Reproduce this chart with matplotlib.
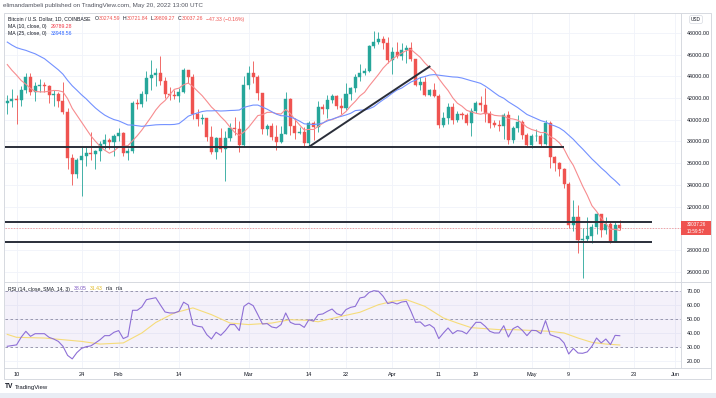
import numpy as np
import pandas as pd
import matplotlib
matplotlib.use("Agg")
import matplotlib.pyplot as plt
import matplotlib.dates as mdates
import matplotlib.transforms as mtransforms
from matplotlib.patches import Rectangle
from matplotlib.lines import Line2D

plt.rcParams['font.family'] = ['Liberation Sans', 'DejaVu Sans']

# BTC/USD daily candles, Coinbase, Jan 8 - May 20 2022
first_day = "2022-01-08"

# Dec 14 - Jan 7 closes, only needed to warm up the moving averages
warmup_closes = [48343, 48864, 47632, 46131, 46834, 46681, 46914, 48889, 48588, 50838,
                 50820, 50429, 50801, 50640, 47588, 46444, 47178, 46306, 47686, 47345,
                 46458, 45897, 43569, 43160, 41557]

closes = [
    # Jan 8 - 31
    41733, 41911, 41821, 42735, 43949, 42591, 43099, 43177, 43113, 42250, 42375, 41744,
    40680, 36457, 35030, 36276, 36654, 36954, 36852, 37138, 37784, 38138, 37917, 38483,
    # Feb
    38743, 36952, 37154, 41500, 41441, 42412, 43840, 44118, 44338, 43565, 42407, 42244,
    42197, 42586, 44575, 43961, 40538, 40030, 40122, 38431, 37075, 38286, 37296, 38332,
    39214, 39105, 37709, 43193,
    # Mar
    44354, 43924, 42451, 39137, 39400, 38420, 37988, 38730, 41941, 39439, 38794, 38904,
    37849, 39666, 39338, 41143, 40951, 41801, 42191, 41247, 41077, 42358, 42892, 43960,
    44348, 44500, 46820, 47128, 47465, 47062, 45538,
    # Apr
    46281, 45868, 46453, 46622, 45555, 43206, 43503, 42287, 42782, 42207, 39521, 40127,
    41166, 39935, 40553, 40424, 39716, 40826, 41502, 41374, 40527, 39741, 39478, 39470,
    40458, 38117, 39241, 39773, 38609, 37714,
    # May
    38469, 38529, 37750, 39698, 36575, 36040, 35501, 34059, 30296, 31022, 28936, 29047,
    29283, 30101, 31305, 29863, 30425, 28716, 30274.59, 30037.26]

highs = [
    42300, 42800, 42250, 43100, 44350, 44300, 43450, 43800, 43500, 43200, 42700, 42600,
    43450, 41100, 36850, 36500, 37550, 37550, 38900, 37250, 38000, 38700, 38350, 38700,
    39250, 38850, 37400, 41700, 41950, 42650, 44500, 45500, 44800, 45850, 43950, 43000,
    42750, 42900, 44750, 44600, 44200, 40950, 40500, 40150, 39450, 38450, 39250, 39000,
    39700, 40300, 39850, 44000,
    44950, 45400, 44100, 42500, 39650, 39700, 39500, 39400, 42550, 42000, 40200, 39350,
    39300, 39900, 39900, 41700, 41450, 42300, 42400, 42300, 42000, 43350, 43000, 44200,
    45100, 44800, 46900, 48200, 48100, 47700, 47600,
    46700, 47200, 47050, 46900, 47150, 45550, 43900, 43950, 42800, 43400, 42400, 40700,
    41550, 41550, 40850, 40700, 40600, 41100, 41750, 42200, 42950, 40800, 39950, 39950,
    40600, 40800, 39450, 40400, 39950, 38800,
    38700, 39150, 38650, 40000, 39850, 36650, 36150, 35550, 34250, 32650, 32100, 30050,
    31000, 30350, 31450, 31300, 31000, 30700, 30550, 30721.84]

lows = [
    40500, 41200, 39650, 41300, 42450, 42300, 41750, 42600, 42600, 41550, 41250, 41150,
    40550, 35500, 34000, 34600, 32950, 35700, 36250, 35500, 36200, 37300, 37350, 36650,
    38000, 36700, 36250, 36950, 40950, 41150, 41700, 42700, 43150, 43200, 42000, 41800,
    41900, 41600, 42450, 43350, 40100, 39450, 39650, 38000, 36850, 36400, 37050, 34350,
    38050, 38600, 37050, 37450,
    42850, 43400, 41850, 38700, 38600, 38100, 37200, 37900, 38650, 38600, 38250, 38700,
    37600, 37600, 38150, 38900, 40550, 40150, 41500, 40950, 40500, 40900, 41850, 42600,
    43600, 44100, 44400, 46650, 46950, 46550, 45200,
    44250, 45700, 45550, 45200, 45400, 43150, 42750, 42150, 42150, 42100, 39250, 39300,
    39600, 39600, 39800, 40050, 39550, 38550, 40600, 40850, 39800, 39200, 39300, 38950,
    38250, 37750, 37900, 38900, 38200, 37600,
    37400, 38050, 37550, 37700, 35600, 35250, 34800, 33700, 30050, 29750, 27750, 25400,
    28700, 28650, 29500, 29200, 29450, 28650, 28700, 29809.27]

rsi_values = [
    30.5, 31.0, 31.5, 37.0, 41.2, 37.6, 39.5, 39.5, 39.5, 36.9,
    35.7, 34.0, 30.5, 24.0, 21.5, 26.0, 29.0, 30.2, 30.8, 32.9,
    35.2, 38.1, 38.1, 40.5, 41.7, 36.0, 37.5, 56.2, 56.2, 58.6,
    63.8, 64.5, 65.2, 60.0, 55.0, 54.3, 54.3, 55.5, 62.0, 60.0,
    46.0, 44.8, 44.3, 38.8, 35.7, 40.5, 38.3, 41.7, 46.0, 46.0,
    41.7, 59.0, 61.4, 59.5, 53.1, 46.4, 46.7, 44.3, 43.6, 46.0,
    54.3, 47.6, 46.2, 46.2, 44.0, 49.5, 48.5, 53.1, 53.6, 55.5,
    57.1, 53.8, 52.6, 56.7, 58.3, 59.0, 65.0, 65.7, 69.0, 70.2,
    69.8, 66.2, 61.0, 61.9, 60.7, 62.1, 62.6, 55.5, 47.6, 47.9,
    44.8, 46.0, 43.6, 36.0, 40.0, 43.6, 39.5, 41.7, 41.2, 39.4,
    43.6, 47.6, 47.6, 44.8, 41.2, 40.0, 40.0, 45.2, 37.1, 43.1,
    44.8, 41.9, 38.1, 41.9, 41.7, 39.5, 48.8, 38.8, 37.6, 36.4,
    32.9, 25.0, 29.0, 25.7, 25.5, 26.5, 30.5, 36.4, 32.9, 35.7,
    31.7, 38.3, 38.05]

# RSI moving average (yellow) read at a few points, day offset from first_day
rsi_ma_days = [0, 2, 8, 16, 20, 25, 29, 32, 36, 40, 44, 48, 52, 57, 61, 65, 67, 72,
               76, 80, 83, 86, 90, 94, 97, 100, 106, 109, 117, 120, 123, 126, 129, 132]
rsi_ma_values = [39.0, 36.9, 36.4, 34.0, 32.1, 32.9, 40.0, 47.5, 54.3, 57.9, 53.1, 47.1,
                 46.0, 47.1, 49.5, 49.0, 48.0, 51.9, 54.8, 60.2, 62.6, 63.8, 59.0, 50.7,
                 47.1, 43.8, 42.4, 42.4, 41.2, 40.0, 36.4, 33.3, 32.1, 31.43]

price_ticks = [26000, 28000, 30000, 32000, 34000, 36000, 38000, 40000, 42000, 44000,
               46000, 48000]
rsi_ticks = [20, 30, 40, 50, 60, 70]
date_ticks = ["2022-01-10", "2022-01-24", "2022-02-01", "2022-02-14", "2022-03-01",
              "2022-03-14", "2022-03-22", "2022-04-01", "2022-04-11", "2022-04-19",
              "2022-05-01", "2022-05-09", "2022-05-23", "2022-06-01"]
date_labels = ["10", "24", "Feb", "14", "Mar", "14", "22", "Apr", "11", "19", "May",
               "9", "23", "Jun"]

# hand-drawn support lines and trend line
support_levels = [37500, 30600, 28750]
support_ends = ["2022-05-08", "2022-05-27", "2022-05-27"]
trend_dates = ["2022-03-14", "2022-04-09"]
trend_prices = [37500, 44900]

GREEN = "#26a69a"
RED = "#ef5350"
DARK = "#131722"
GRID = "#f0f3fa"
BORDER = "#d6d9e0"

# derived series
dates = pd.date_range(first_day, periods=len(closes), freq="D")
x = mdates.date2num(dates)
closes_arr = np.array(closes, dtype=float)
opens = np.array([warmup_closes[-1]] + closes[:-1], dtype=float)
highs = np.array(highs, dtype=float)
lows = np.array(lows, dtype=float)
all_closes = pd.Series(warmup_closes + closes, dtype=float)
ma10 = all_closes.rolling(10).mean().values[len(warmup_closes):]
ma25 = all_closes.rolling(25).mean().values[len(warmup_closes):]
last = closes[-1]

W, H = 716, 398
def fx(px):
    return px / W
def fy(py):
    return 1 - py / H

fig = plt.figure(figsize=(W / 100, H / 100), dpi=100)
fig.patch.set_facecolor("white")
renderer = fig.canvas.get_renderer()

left, right = 4.5, 681
ax = fig.add_axes([fx(left), fy(282), fx(right) - fx(left), fy(13) - fy(282)])
rx = fig.add_axes([fx(left), fy(368), fx(right) - fx(left), fy(282) - fy(368)], sharex=ax)

x0 = x[0]
ax.set_xlim(x0 - 0.6, x0 + 145.2)
ax.set_ylim(25050, 49840)
rx.set_ylim(15.0, 76.4)

for a in (ax, rx):
    for s in ("top", "left", "bottom"):
        a.spines[s].set_visible(False)
    a.spines["right"].set_color(BORDER)
    a.spines["right"].set_linewidth(0.7)
    a.set_facecolor("white")
    a.yaxis.tick_right()
    a.tick_params(axis="y", length=0, pad=4, labelsize=3.9, labelcolor=DARK)
    a.set_xticks(mdates.date2num(pd.to_datetime(date_ticks)))
    a.grid(True, color=GRID, lw=0.6)
    a.set_axisbelow(True)

# the scale label under the last-price tag is covered in the original
ax.set_yticks(price_ticks)
ax.set_yticklabels(["" if abs(v - last) < 1000 else f"{v:.2f}" for v in price_ticks])
ax.tick_params(axis="x", length=0, labelbottom=False)

rx.set_yticks(rsi_ticks)
rx.set_yticklabels([f"{v:.2f}" for v in rsi_ticks])
rx.set_xticklabels(date_labels)
rx.tick_params(axis="x", length=0, pad=3, labelsize=4, labelcolor=DARK)

# candles
up = closes_arr >= opens
col = np.where(up, GREEN, RED)
ax.vlines(x, lows, highs, colors=col, lw=0.6, zorder=3)
ax.bar(x, np.abs(closes_arr - opens), bottom=np.minimum(opens, closes_arr), width=0.65,
       color=col, edgecolor=col, linewidth=0.3, zorder=4)

# moving averages
ax.plot(x, ma10, color="#f78c8f", lw=0.8, zorder=5)
ax.plot(x, ma25, color="#7391ff", lw=0.8, zorder=5)

# user drawn lines
for lvl, end in zip(support_levels, support_ends):
    ax.plot([x0 - 0.6, mdates.date2num(pd.Timestamp(end))], [lvl, lvl], color="#2a2e39",
            lw=1.4, solid_capstyle="butt", zorder=6)
ax.plot(mdates.date2num(pd.to_datetime(trend_dates)), trend_prices, color="#2a2e39",
        lw=1.4, zorder=6)

# last price line and tag
ax.axhline(last, color=RED, lw=0.5, ls=(0, (2, 2)), alpha=0.7, zorder=2)
blend = mtransforms.blended_transform_factory(ax.transAxes, ax.transData)
col_w = (711 - right) / (right - left)
ax.add_patch(Rectangle((1.0, last - 680), col_w, 1330, transform=blend, clip_on=False,
                       facecolor=RED, edgecolor="none", zorder=10))
ax.text(1.0 + col_w / 2, last + 330, f"{last:.2f}", transform=blend, color="white",
        fontsize=3.3, ha="center", va="center", zorder=11, clip_on=False)
ax.text(1.0 + col_w / 2, last - 340, "10:59:57", transform=blend, color="white",
        fontsize=3.3, ha="center", va="center", zorder=11, clip_on=False)

# RSI pane
rx.axhspan(30, 70, color="#7e57c2", alpha=0.08, lw=0)
for lvl in (70, 50, 30):
    rx.axhline(lvl, color="#8d8aa3", lw=0.6, ls=(0, (3, 3)))
rx.plot(x, rsi_values, color="#8e6fd6", lw=0.8, zorder=4)
rx.plot(x0 + np.array(rsi_ma_days), rsi_ma_values, color="#f6dc7a", lw=0.8, zorder=3)

# frame and pane separators
fig.patches.append(Rectangle((fx(4), fy(379)), fx(711) - fx(4), fy(13) - fy(379),
                             transform=fig.transFigure, fill=False, edgecolor=BORDER,
                             lw=0.7))
for py in (282, 368):
    fig.lines.append(Line2D([fx(4), fx(711)], [fy(py), fy(py)], transform=fig.transFigure,
                            color=BORDER, lw=0.7))
fig.patches.append(Rectangle((0, 0), 1, fy(393), transform=fig.transFigure,
                             facecolor="#e9edf4", edgecolor="none"))


# legends: pieces of text laid out one after another
def chain(parts, px, py, size):
    cur = px
    for s, c, gap in parts:
        t = fig.text(fx(cur), fy(py), s, color=c, fontsize=size, va="center")
        cur = t.get_window_extent(renderer).x1 + gap


chain([("Bitcoin / U.S. Dollar, 1D, COINBASE", DARK, 4), ("O", DARK, 0.3),
       ("30274.59", RED, 2.5), ("H", DARK, 0.3), ("30721.84", RED, 2.5),
       ("L", DARK, 0.3), ("29809.27", RED, 2.5), ("C", DARK, 0.3),
       ("30037.26", RED, 2.5), ("\u221247.33 (\u22120.16%)", RED, 0)], 8, 19, 3.7)
chain([("MA (10, close, 0)", DARK, 4), ("29789.28", "#f23645", 0)], 8, 26.5, 3.7)
chain([("MA (25, close, 0)", DARK, 4), ("33948.56", "#2962ff", 0)], 8, 33.5, 3.7)
chain([("RSI (14, close, SMA, 14, 3)", DARK, 4), ("38.05", "#7e57c2", 3),
       ("31.43", "#e0b81f", 3), ("n/a", DARK, 3), ("n/a", DARK, 0)], 8, 289, 3.7)

fig.text(fx(3), fy(6), "elimandambeli published on TradingView.com, May 20, 2022 13:00 UTC",
         fontsize=4.5, color="#50535e", va="center")
fig.text(fx(696), fy(19.5), "USD", fontsize=3.4, color=DARK, ha="center", va="center",
         bbox=dict(boxstyle="round,pad=0.3", fc="white", ec=BORDER, lw=0.5))
fig.text(fx(5), fy(387), "TV", fontsize=4.8, fontweight="bold", color=DARK, va="center")
fig.text(fx(15), fy(387), "TradingView", fontsize=4.3, color=DARK, va="center")

fig.savefig("out.png", dpi=100, facecolor="white")
